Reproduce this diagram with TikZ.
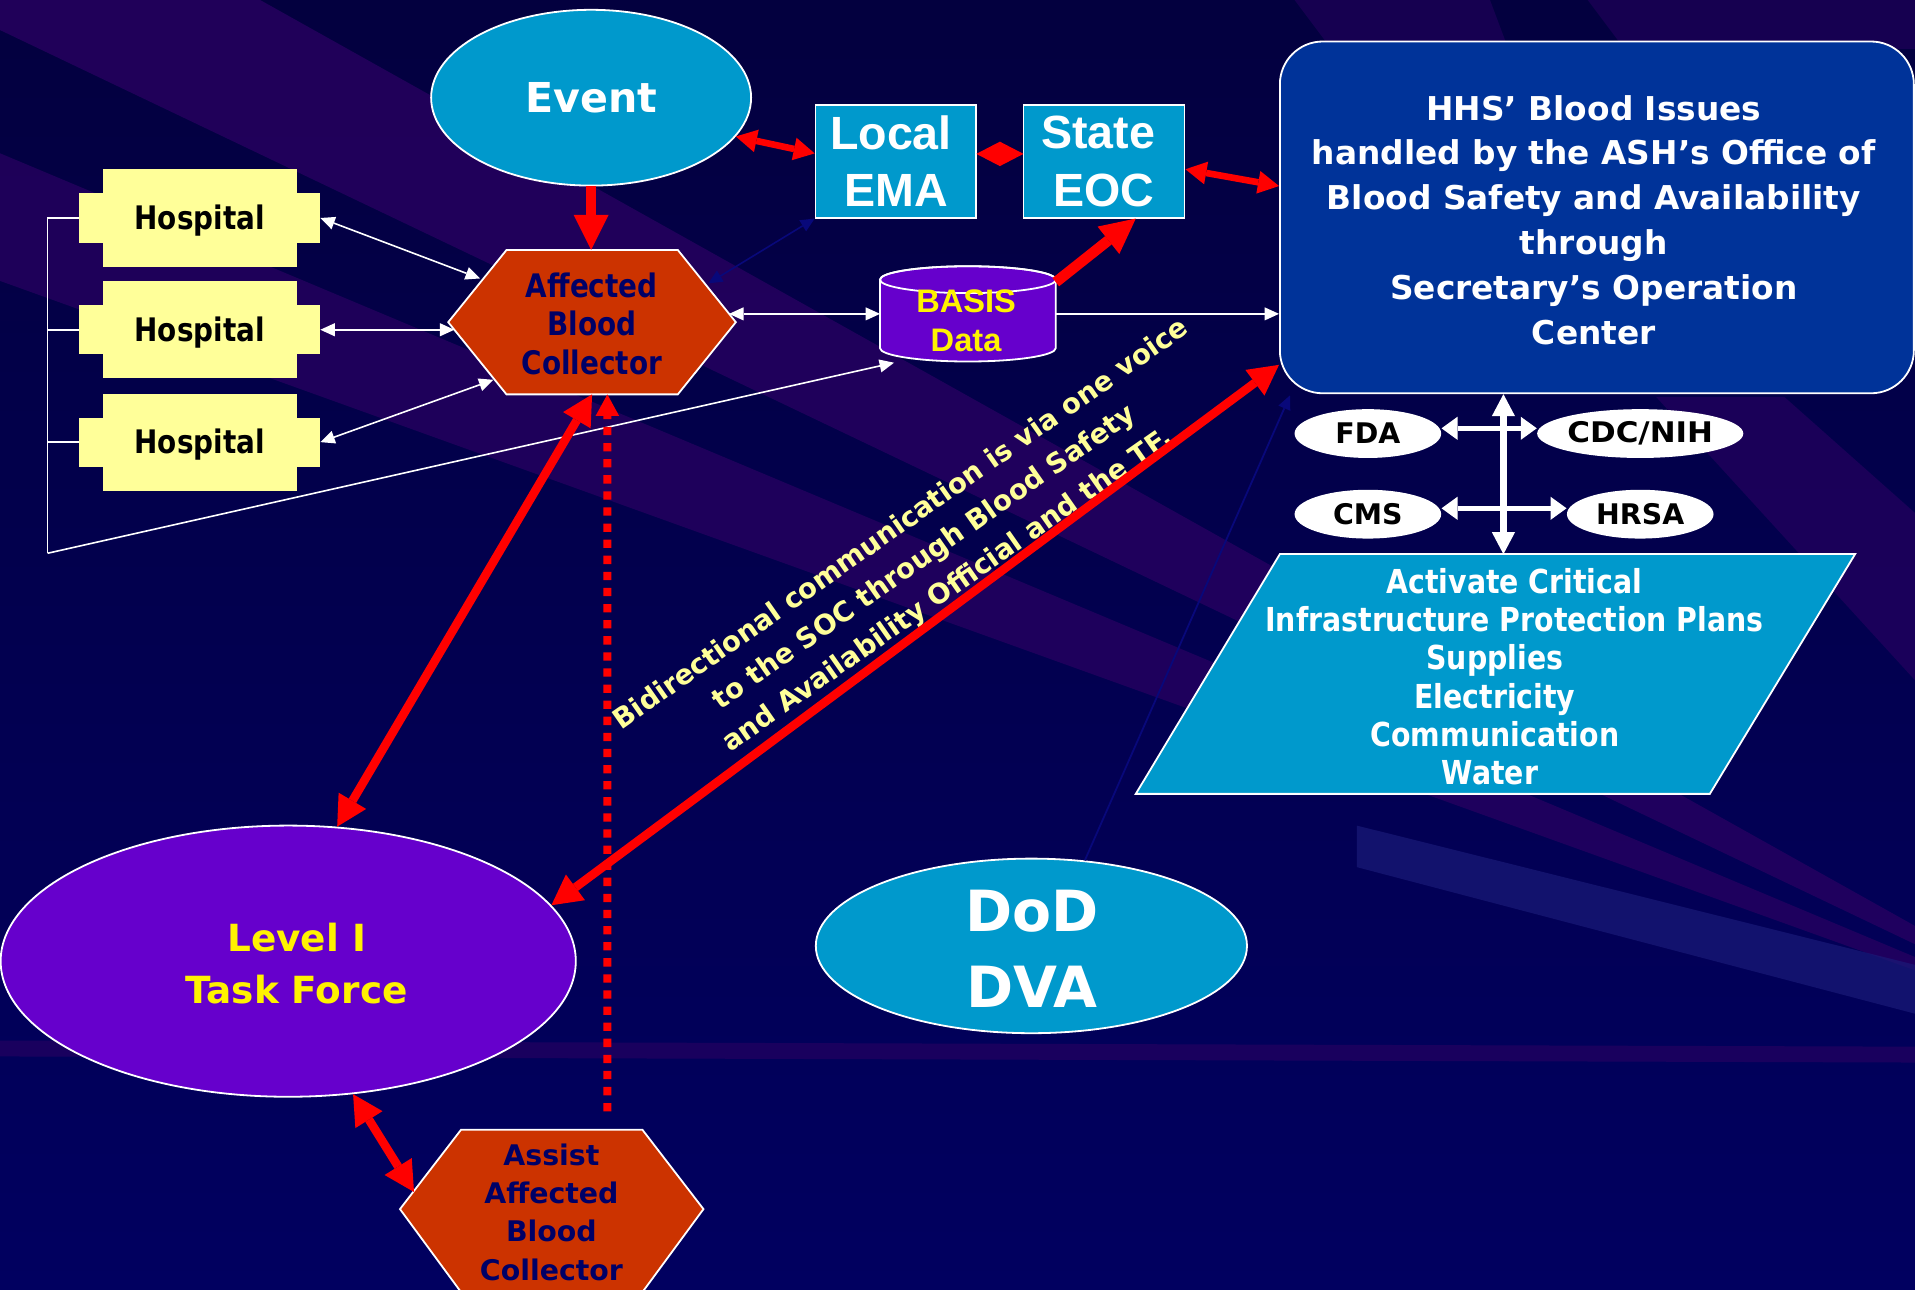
\documentclass[tikz,border=0pt]{standalone}
\usepackage{fontspec}
\setmainfont{DejaVu Sans}
\newfontfamily\arialf{Liberation Sans}
\newfontfamily\condf{DejaVu Sans}[FakeStretch=0.86]
\usetikzlibrary{arrows.meta,shapes.geometric,calc}
\definecolor{bgtop}{HTML}{03003F}
\definecolor{bgbottom}{HTML}{010060}
\definecolor{bgband}{HTML}{2A0062}
\definecolor{bgblue}{HTML}{1A1A78}
\definecolor{cyanbox}{HTML}{0099CC}
\definecolor{hhsblue}{HTML}{003399}
\definecolor{rust}{HTML}{CC3300}
\definecolor{violetbox}{HTML}{6600CC}
\definecolor{paleyellow}{HTML}{FFFF99}
\definecolor{navytext}{HTML}{000066}
\definecolor{brightred}{HTML}{FF0000}
\definecolor{darkarrow}{HTML}{08087A}
\newcommand{\setfsz}[2]{\fontsize{#1}{#2}\selectfont}
\tikzset{
 shapeline/.style={draw=white, line width=0.9pt},
 redS/.style={draw=brightred, line width=3.3pt, {Triangle[length=10.5pt,width=11.5pt,line width=0pt]}-{Triangle[length=10.5pt,width=11.5pt,line width=0pt]}},
 redB/.style={draw=brightred, line width=5.3pt, -{Triangle[length=17.5pt,width=17.5pt,line width=0pt]}},
 redL/.style={draw=brightred, line width=4.3pt, {Triangle[length=15pt,width=16pt,line width=0pt]}-{Triangle[length=15pt,width=16pt,line width=0pt]}},
 redD/.style={draw=brightred, line width=4.1pt, dash pattern=on 4.15pt off 3.9pt, -{Triangle[length=10.8pt,width=11.8pt,line width=0pt]}},
 wTT/.style={draw=white, line width=0.8pt, {Triangle[length=7.2pt,width=6.6pt,line width=0pt]}-{Triangle[length=7.2pt,width=6.6pt,line width=0pt]}},
 wTO/.style={draw=white, line width=0.8pt, -{Triangle[length=7.2pt,width=6.6pt,line width=0pt]}},
 wK/.style={draw=white, line width=3.4pt, {Triangle[length=11pt,width=11.6pt,line width=0pt]}-{Triangle[length=11pt,width=11.6pt,line width=0pt]}},
 wM/.style={draw=white, line width=2.7pt, {Triangle[length=8pt,width=11.6pt,line width=0pt]}-{Triangle[length=8pt,width=11.6pt,line width=0pt]}},
 navyA/.style={draw=darkarrow, line width=0.8pt, {Triangle[length=7pt,width=6.5pt,line width=0pt]}-{Triangle[length=7pt,width=6.5pt,line width=0pt]}},
 navyO/.style={draw=darkarrow, line width=0.9pt, -{Triangle[length=7pt,width=6.5pt,line width=0pt]}},
 txtbox/.style={inner sep=0pt, outer sep=0pt, align=center},
 hospbox/.style={txtbox, minimum width=120.7pt, minimum height=48.9pt, text height=11.5pt, text depth=0pt, font=\condf\bfseries\setfsz{16.2pt}{19pt}, text=black},
 agency/.style={ellipse, fill=white, inner sep=0pt, minimum width=73.3pt, minimum height=24.4pt, text=black, font=\bfseries\setfsz{14.2pt}{16pt}},
}
\begin{document}
\begin{tikzpicture}[x=0.6107pt,y=-0.6107pt]
\useasboundingbox (0,0) rectangle (1568,1056);
\clip (0,0) rectangle (1568,1056);
% background
\shade[top color=bgtop, bottom color=bgbottom] (0,0) rectangle (1568,1056);
\coordinate (vp) at (1750,860);
\begin{scope}[fill=bgband]
 \fill[opacity=0.75] (0,0) -- (213,0) -- (vp) -- (0,24.6) -- cycle;
 \fill[opacity=0.7] (0,125.5) -- (vp) -- (0,230) -- cycle;
 \fill[opacity=0.5] (1060,0) -- (1220,0) -- (1235,40) -- (1090,40) -- cycle;
 \fill[opacity=0.5] (1300,0) -- (1568,0) -- (1568,40) -- (1330,40) -- cycle;
 \fill[opacity=0.6] (1356,325) -- (1461,325) -- (1568,420) -- (1568,557) -- cycle;
 \fill[opacity=0.6] (0,852) -- (1568,857) -- (1568,870) -- (0,865) -- cycle;
\end{scope}
\fill[bgblue, opacity=0.7] (1111,676) -- (1568,790) -- (1568,830) -- (1111,710) -- cycle;

% ---------- shapes and nodes
\node[ellipse, fill=cyanbox, shapeline, minimum width=160pt, minimum height=87.9pt, inner sep=0pt,
      text=white, font=\bfseries\setfsz{20.6pt}{24pt}] (event) at (484,80) {Event};

\node[rectangle, fill=cyanbox, shapeline, minimum width=80.4pt, minimum height=56.3pt, inner sep=0pt,
      align=center, text=white, font=\arialf\bfseries\setfsz{23.3pt}{28.7pt}] (lema) at (733.6,132.1) {Local\hspace*{5pt}\\EMA};
\node[rectangle, fill=cyanbox, shapeline, minimum width=80.5pt, minimum height=56.3pt, inner sep=0pt,
      align=center, text=white, font=\arialf\bfseries\setfsz{23.3pt}{28.7pt}] (seoc) at (904,132.1) {State\hspace*{6pt}\\EOC};

\node[rectangle, rounded corners=21.4pt, fill=hhsblue, shapeline, minimum width=317pt, minimum height=175.9pt,
      inner sep=0pt] (hhs) at (1307.5,178) {};
\node[txtbox, text=white, font=\bfseries\setfsz{16.4pt}{22.4pt}] (hhstxt) at (1305,180)
  {HHS’ Blood Issues\\handled by the ASH’s Office of\\Blood Safety and Availability\\through\\Secretary’s Operation\\Center};

% hospitals
\foreach \yy/\nm in {178.5/h1, 270/h2, 362/h3}{
  \fill[paleyellow] (84.5,\yy-39.8) rectangle (242.9,\yy+39.8);
  \fill[paleyellow] (64.7,\yy-20.1) rectangle (262.4,\yy+20.1);
  \node[hospbox] (\nm) at (163.5,\yy) {Hospital};
}

% affected blood collector hexagon
\filldraw[fill=rust, shapeline] (367,263.8) -- (414.7,204.7) -- (555,204.7) -- (602.5,263.8) -- (555,322.9) -- (414.7,322.9) -- cycle;
\node[txtbox, minimum width=143.8pt, minimum height=72.2pt] (abc) at (484.8,263.8) {};
\node[txtbox, text=navytext, font=\condf\bfseries\setfsz{16.2pt}{19.2pt}] (abctxt) at (484.5,265) {Affected\\Blood\\Collector};

% BASIS cylinder
\filldraw[fill=violetbox, shapeline] (720.5,229) -- (720.5,285) arc[start angle=180, end angle=0, x radius=72, y radius=11]
   -- (864.5,229) arc[start angle=0, end angle=-180, x radius=72, y radius=11] -- cycle;
\draw[shapeline] (792.5,229) ellipse [x radius=72, y radius=11];
\node[txtbox, minimum width=87.9pt, minimum height=47.6pt] (basis) at (792.5,257) {};
\node[txtbox, text=yellow, font=\arialf\bfseries\setfsz{16.3pt}{19.5pt}] (basistxt) at (791,263) {BASIS\\Data};

% level I task force
\node[ellipse, fill=violetbox, shapeline, minimum width=287.6pt, minimum height=135.6pt, inner sep=0pt] (tf) at (236,787) {};
\node[txtbox, text=yellow, font=\bfseries\setfsz{18.7pt}{25.6pt}] (tftxt) at (243,789) {Level I\\Task Force};

% DoD DVA
\node[ellipse, fill=cyanbox, shapeline, minimum width=215.6pt, minimum height=87.3pt, inner sep=0pt] (dod) at (844.5,774.5) {};
\node[txtbox, text=white, font=\bfseries\setfsz{28.4pt}{37.9pt}] (dodtxt) at (845,777) {DoD\\DVA};

% assist hexagon
\filldraw[fill=rust, shapeline] (327.5,990) -- (377.5,925) -- (526,925) -- (576,990) -- (526,1058) -- (377.5,1058) -- cycle;
\node[txtbox, minimum width=151.7pt, minimum height=80pt] (assist) at (451.75,991.5) {};
\node[txtbox, text=navytext, font=\bfseries\setfsz{14.2pt}{19.2pt}] (assisttxt) at (451.5,992.5) {Assist\\Affected\\Blood\\Collector};

% agencies
\node[agency] (fda) at (1120,355) {FDA};
\node[agency] (cdc) at (1343,355) {\scalebox{1.09}[1]{CDC/NIH}};
\node[agency] (cms) at (1120,421) {CMS};
\node[agency] (hrsa) at (1343,421) {HRSA};

% critical infrastructure parallelogram
\filldraw[fill=cyanbox, shapeline] (1048,453.6) -- (1519,453.6) -- (1400,650) -- (930,650) -- cycle;
\node[txtbox, minimum height=120pt] (crit) at (1224,552) {};
\node[txtbox, text=white, font=\condf\bfseries\setfsz{16.5pt}{19.1pt}] (crittxt) at (1224,554)
  {\hspace*{19.5pt}Activate Critical\\\hspace*{19.5pt}Infrastructure Protection Plans\\Supplies\\Electricity\\Communication\\Water\hspace*{5pt}};

% rotated note
\node[txtbox, rotate=35, text=paleyellow, font=\bfseries\setfsz{13.8pt}{20.2pt}] (note) at (757,457)
  {Bidirectional communication is via one voice\\to the SOC through Blood Safety\\and Availability Official and the TF.};

% ---------- connectors
\coordinate (abcUL) at (393,228);
\coordinate (abcML) at (372,270);
\coordinate (abcLL) at (404,311);
\coordinate (abcUR) at (597,257);
\coordinate (abcNE) at (580,232);
\coordinate (brk) at (39,453);
\coordinate (basisLL) at (732,297);
\coordinate (dotB) at (497.3,910);
\coordinate (assistUL) at (339,976);
\coordinate (vtop) at ($(hhs.south)+(-76.5,0)$);

\draw[navyO] (dod.58) -- ($(hhs.south west)+(9,1)$);
\draw[redS] (event.-15.5) -- ($(lema.west)+(0,-6.5)$);
\fill[brightred] (799.4,126) -- (818.7,116) -- (838,126) -- (818.7,136) -- cycle;
\draw[redS] ($(seoc.east)+(0,6.5)$) -- ($(hhs.west)+(0,-25.7)$);
\draw[redB] (event.south) -- (event.south |- abc.north);
\draw[redB] ($(basis.north east)+(0,13)$) -- ($(seoc.south)+(26,0)$);

\draw[wTT] (h1.east) -- (abcUL);
\draw[wTT] (h2.east) -- (abcML);
\draw[wTT] (h3.east) -- (abcLL);
\draw[white, line width=0.8pt] (h1.west) -- (h1.west -| brk) -- (brk);
\draw[white, line width=0.8pt] (h2.west) -- (h2.west -| brk);
\draw[white, line width=0.8pt] (h3.west) -- (h3.west -| brk);
\draw[wTO] (brk) -- (basisLL);
\draw[wTT] (abcUR) -- (basis.west);
\draw[wTO] (basis.east) -- (basis.east -| hhs.west);
\draw[navyA] (lema.south west) -- (abcNE);

\draw[redL] (abc.south) -- (tf.70);
\draw[redD] (dotB) -- ($(abc.south)+(12.5,0)$);
\draw[redL] ($(hhs.south west)+(0,-24)$) -- (tf.12);
\draw[redL] (tf.-64) -- (assistUL);

\draw[wK] (vtop) -- (vtop |- crit.north);
\draw[wM] ($(fda.east)+(0,-4.3)$) -- ($(cdc.west)+(0,-4.3)$);
\draw[wM] ($(cms.east)+(0,-4.8)$) -- ($(hrsa.west)+(0,-4.8)$);
\end{tikzpicture}
\end{document}
